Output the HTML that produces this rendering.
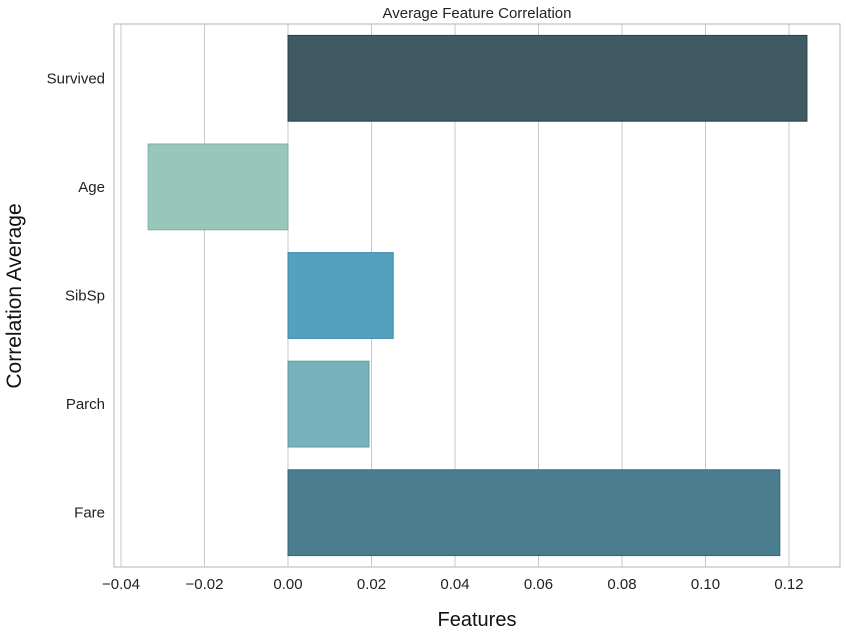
<!DOCTYPE html>
<html><head><meta charset="utf-8"><style>
body{margin:0;background:#fff;}
svg{display:block;font-family:"Liberation Sans",Arial,sans-serif;}
</style></head><body>
<svg id="chart" width="846" height="637"></svg>
<script>
const categories = ["Survived","Age","SibSp","Parch","Fare"];
const values = [0.1243, -0.0335, 0.0252, 0.0194, 0.1178];
const tickValues = [-0.04,-0.02,0.00,0.02,0.04,0.06,0.08,0.10,0.12];
const tickLabels = ["\u22120.04","\u22120.02","0.00","0.02","0.04","0.06","0.08","0.10","0.12"];
const colors = ["#3f5a63","#97c6bb","#53a0bf","#77b1bb","#4a7e8f"];
const edges = ["#2a3f47","#7fb0a4","#3c88a7","#5e9aa5","#356676"];

const NS="http://www.w3.org/2000/svg";
const svg=document.getElementById('chart');
const L=114,R=840,T=24,B=567;
const x0=288, k=4175;
const xs=v=>x0+v*k;
const band=(B-T)/categories.length;
const ys=i=>T+band*i;
const bh=band*0.79;
function mk(tag,attrs,parent){const e=document.createElementNS(NS,tag);for(const a in attrs)e.setAttribute(a,attrs[a]);(parent||svg).appendChild(e);return e;}

// grid
tickValues.forEach((v,i)=>{
  const g=mk('line',{x1:xs(v),x2:xs(v),y1:T,y2:B,stroke:'#c8c8c8','stroke-width':1});
  
  
  const t=mk('text',{x:xs(v),y:B+22,'text-anchor':'middle','font-size':15,fill:'#222'});
  t.textContent=tickLabels[i];
  
  
});
// bars
categories.forEach((c,i)=>{
  const v=values[i];
  const x=Math.min(xs(0),xs(v)), w=Math.abs(xs(v)-xs(0));
  const yc=ys(i)+band/2;
  const r=mk('rect',{x:x,y:yc-bh/2,width:w,height:bh,fill:colors[i],stroke:edges[i],'stroke-width':1});
  
  
  const t=mk('text',{x:L-9,y:yc+5,'text-anchor':'end','font-size':15,fill:'#222'});
  t.textContent=c;
  
  
});
// frame
const f=mk('rect',{x:L,y:T,width:R-L,height:B-T,fill:'none',stroke:'#c0c0c0','stroke-width':1.2});


const title=mk('text',{x:(L+R)/2,y:18,'text-anchor':'middle','font-size':15,fill:'#222'});
title.textContent='Average Feature Correlation';


const xt=mk('text',{x:(L+R)/2,y:626,'text-anchor':'middle','font-size':20,fill:'#111'});
xt.textContent='Features';


const yt=mk('text',{x:0,y:0,'text-anchor':'middle','font-size':21,fill:'#111',transform:'translate(21,296) rotate(-90)'});
yt.textContent='Correlation Average';


</script>
</body></html>
